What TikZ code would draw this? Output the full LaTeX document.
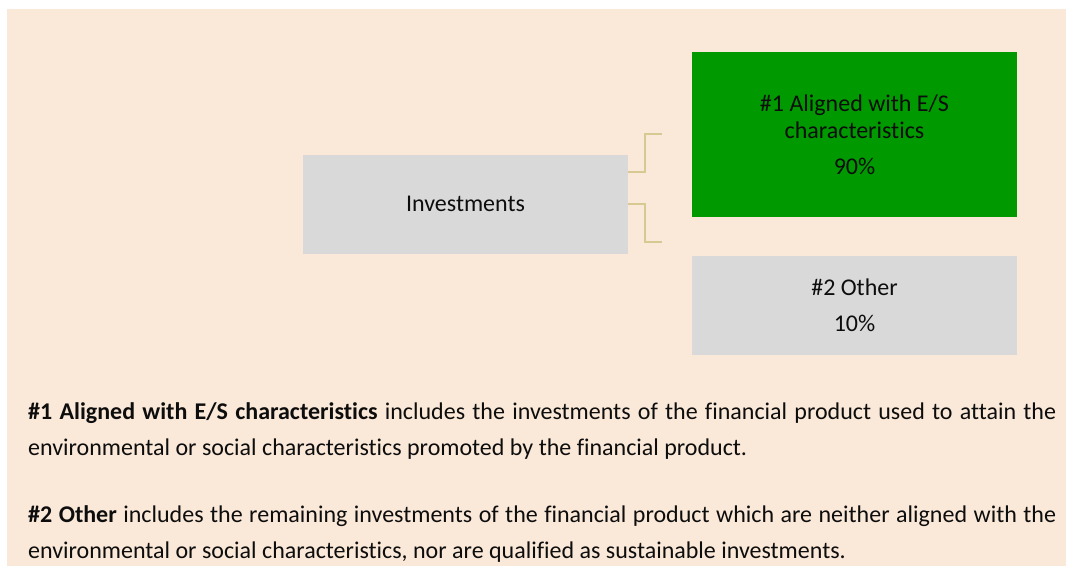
\documentclass[tikz,border=0pt]{standalone}
\usepackage{fontspec}
\setmainfont{Carlito}[Ligatures=NoCommon]
\definecolor{bgbeige}{RGB}{250,232,216}
\definecolor{boxgray}{RGB}{217,217,217}
\definecolor{boxgreen}{RGB}{0,153,0}
\definecolor{connkhaki}{RGB}{214,202,146}
\definecolor{txt}{RGB}{13,13,13}
\begin{document}
\begin{tikzpicture}[x=1pt,y=-1pt,
  every node/.style={text=txt},
  catbox/.style={rectangle,inner sep=0pt,minimum width=325pt,align=center,
    font=\fontsize{24}{27}\selectfont},
  conn/.style={draw=connkhaki,line width=1.6pt},
  para/.style={anchor=base west,inner sep=0pt,font=\fontsize{24}{36.5}\selectfont}]
\useasboundingbox (0,0) rectangle (1066,566);
\fill[bgbeige] (7,9) rectangle (1066,566);
\node[catbox,fill=boxgray,minimum height=99pt] (inv) at (465.5,204) {Investments};
\node[catbox,fill=boxgreen,minimum height=165pt] (aligned) at (854.5,134.5)
  {\#1 Aligned with E/S\\characteristics\\[9pt]90\%};
\node[catbox,fill=boxgray,minimum height=99pt] (other) at (854.5,305.5)
  {\#2 Other\\[9pt]10\%};
\coordinate (c1) at (662,134);
\coordinate (c2) at (662,242);
\draw[conn] ([yshift=32pt]inv.east) -- ++(17,0) |- (c1);
\draw[conn] (inv.east) -- ++(17,0) |- (c2);
\node[para] (p1) at (28,419) {\parbox[t]{1028pt}{\setlength\parindent{0pt}\emergencystretch=3em
  \textbf{\#1 Aligned with E/S characteristics} includes the investments of the financial product used to attain the\linebreak
  environmental or social characteristics promoted by the financial product.}};
\node[para] (p2) at (28,522) {\parbox[t]{1028pt}{\setlength\parindent{0pt}\emergencystretch=3em
  \textbf{\#2 Other} includes the remaining investments of the financial product which are neither aligned with the\linebreak
  environmental or social characteristics, nor are qualified as sustainable investments.}};
\end{tikzpicture}
\end{document}
